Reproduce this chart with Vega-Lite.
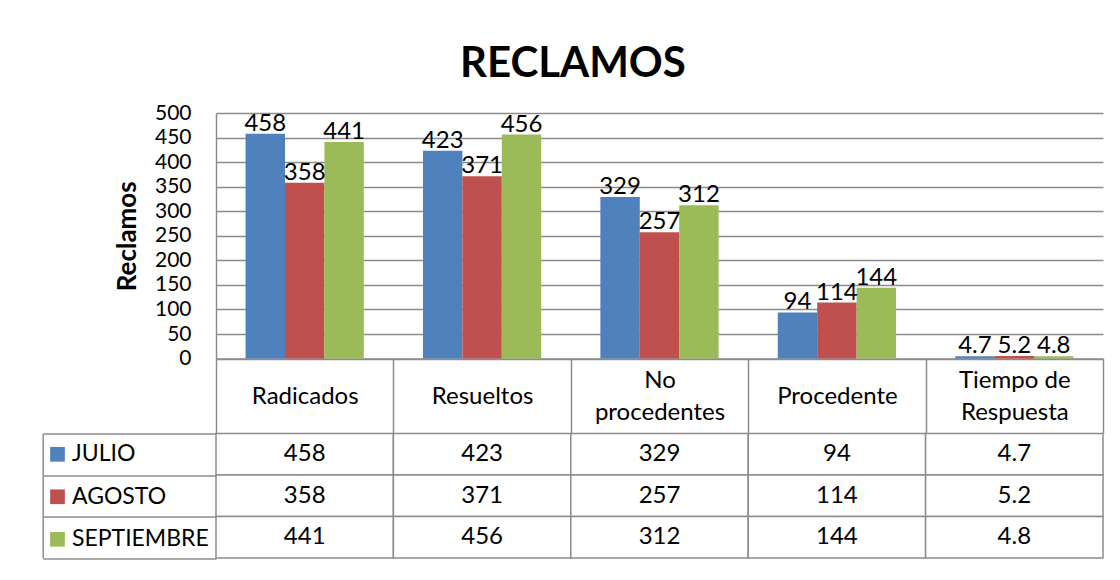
{
  "$schema": "https://vega.github.io/schema/vega-lite/v6.json",
  "padding": {"left": 41, "top": 43, "right": 10, "bottom": 10},
  "background": "white",
  "config": {
    "font": "Lato",
    "view": {"stroke": null},
    "text": {"color": "black"}
  },
  "title": {
    "text": "RECLAMOS",
    "font": "Lato",
    "fontSize": 42,
    "fontWeight": "bold",
    "color": "black",
    "anchor": "middle",
    "offset": 16
  },
  "datasets": {
    "reclamos": [
      {"categoria": "Radicados", "mes": "JULIO", "valor": 458},
      {"categoria": "Radicados", "mes": "AGOSTO", "valor": 358},
      {"categoria": "Radicados", "mes": "SEPTIEMBRE", "valor": 441},
      {"categoria": "Resueltos", "mes": "JULIO", "valor": 423},
      {"categoria": "Resueltos", "mes": "AGOSTO", "valor": 371},
      {"categoria": "Resueltos", "mes": "SEPTIEMBRE", "valor": 456},
      {"categoria": "No procedentes", "mes": "JULIO", "valor": 329},
      {"categoria": "No procedentes", "mes": "AGOSTO", "valor": 257},
      {"categoria": "No procedentes", "mes": "SEPTIEMBRE", "valor": 312},
      {"categoria": "Procedente", "mes": "JULIO", "valor": 94},
      {"categoria": "Procedente", "mes": "AGOSTO", "valor": 114},
      {"categoria": "Procedente", "mes": "SEPTIEMBRE", "valor": 144},
      {"categoria": "Tiempo de Respuesta", "mes": "JULIO", "valor": 4.7},
      {"categoria": "Tiempo de Respuesta", "mes": "AGOSTO", "valor": 5.2},
      {"categoria": "Tiempo de Respuesta", "mes": "SEPTIEMBRE", "valor": 4.8}
    ]
  },
  "bounds": "flush",
  "spacing": 74.4,
  "vconcat": [
    {
      "width": 887,
      "height": 245.6,
      "data": {"name": "reclamos"},
      "encoding": {
        "x": {
          "field": "categoria",
          "type": "nominal",
          "sort": ["Radicados", "Resueltos", "No procedentes", "Procedente", "Tiempo de Respuesta"],
          "scale": {"paddingInner": 0, "paddingOuter": 0},
          "axis": {
            "orient": "bottom",
            "title": null,
            "grid": false,
            "domain": true,
            "domainColor": "#8c8c8c",
            "domainWidth": 1.5,
            "ticks": true,
            "tickBand": "extent",
            "tickSize": 74.4,
            "tickColor": "#8c8c8c",
            "tickWidth": 1.5,
            "labelAngle": 0,
            "labelFontSize": 24,
            "labelColor": "black",
            "labelPadding": {
              "condition": {"test": "datum.value == 'No procedentes' || datum.value == 'Tiempo de Respuesta'", "value": -52.5},
              "value": -36.7
            },
            "labelBaseline": "middle",
            "labelLineHeight": 31.6,
            "labelOverlap": false,
            "labelLimit": 0,
            "labelExpr": "datum.label == 'No procedentes' ? ['No', 'procedentes'] : datum.label == 'Tiempo de Respuesta' ? ['Tiempo de', 'Respuesta'] : datum.label"
          }
        },
        "xOffset": {
          "field": "mes",
          "type": "nominal",
          "sort": ["JULIO", "AGOSTO", "SEPTIEMBRE"],
          "scale": {"paddingInner": 0, "paddingOuter": 0.75}
        },
        "y": {
          "field": "valor",
          "type": "quantitative",
          "scale": {"domain": [0, 500], "nice": false},
          "axis": {
            "values": [0, 50, 100, 150, 200, 250, 300, 350, 400, 450, 500],
            "grid": true,
            "gridColor": "#8c8c8c",
            "gridWidth": 1.5,
            "domain": true,
            "domainColor": "#8c8c8c",
            "domainWidth": 1.5,
            "ticks": false,
            "labelFontSize": 21,
            "labelColor": "black",
            "labelPadding": 25,
            "labelOverlap": false,
            "title": "Reclamos",
            "titleFontSize": 26,
            "titleFontWeight": "bold",
            "titleColor": "black",
            "titlePadding": 14
          }
        }
      },
      "layer": [
        {
          "mark": {"type": "bar"},
          "encoding": {
            "color": {
              "field": "mes",
              "type": "nominal",
              "sort": ["JULIO", "AGOSTO", "SEPTIEMBRE"],
              "scale": {"domain": ["JULIO", "AGOSTO", "SEPTIEMBRE"], "range": ["#4F81BD", "#C0504D", "#9BBB59"]},
              "legend": {
                "orient": "none",
                "legendX": -170,
                "legendY": 329.8,
                "title": null,
                "padding": 0,
                "symbolType": "square",
                "symbolSize": 216,
                "symbolStrokeWidth": 0,
                "symbolOpacity": 1,
                "labelFontSize": 23,
                "labelColor": "black",
                "labelOffset": 3,
                "labelLimit": 0,
                "rowPadding": 18.5
              }
            }
          }
        },
        {
          "mark": {"type": "text", "baseline": "alphabetic", "dy": -3, "fontSize": 24},
          "encoding": {"text": {"field": "valor", "type": "quantitative"}}
        }
      ]
    },
    {
      "width": 887,
      "height": 124.5,
      "data": {"name": "reclamos"},
      "encoding": {
        "x": {
          "field": "categoria",
          "type": "nominal",
          "sort": ["Radicados", "Resueltos", "No procedentes", "Procedente", "Tiempo de Respuesta"],
          "scale": {"paddingInner": 0, "paddingOuter": 0},
          "axis": null
        },
        "y": {
          "field": "mes",
          "type": "nominal",
          "sort": ["JULIO", "AGOSTO", "SEPTIEMBRE"],
          "scale": {"paddingInner": 0, "paddingOuter": 0},
          "axis": {
            "orient": "left",
            "offset": 173.3,
            "title": null,
            "labels": false,
            "grid": false,
            "domain": true,
            "domainColor": "#8c8c8c",
            "domainWidth": 1.5,
            "ticks": true,
            "tickBand": "extent",
            "tickSize": -173.3,
            "tickColor": "#8c8c8c",
            "tickWidth": 1.5
          }
        }
      },
      "layer": [
        {"mark": {"type": "rect", "fill": "white", "stroke": "#8c8c8c", "strokeWidth": 1.5}},
        {
          "mark": {"type": "text", "fontSize": 24},
          "encoding": {"text": {"field": "valor", "type": "quantitative"}}
        }
      ]
    }
  ]
}
